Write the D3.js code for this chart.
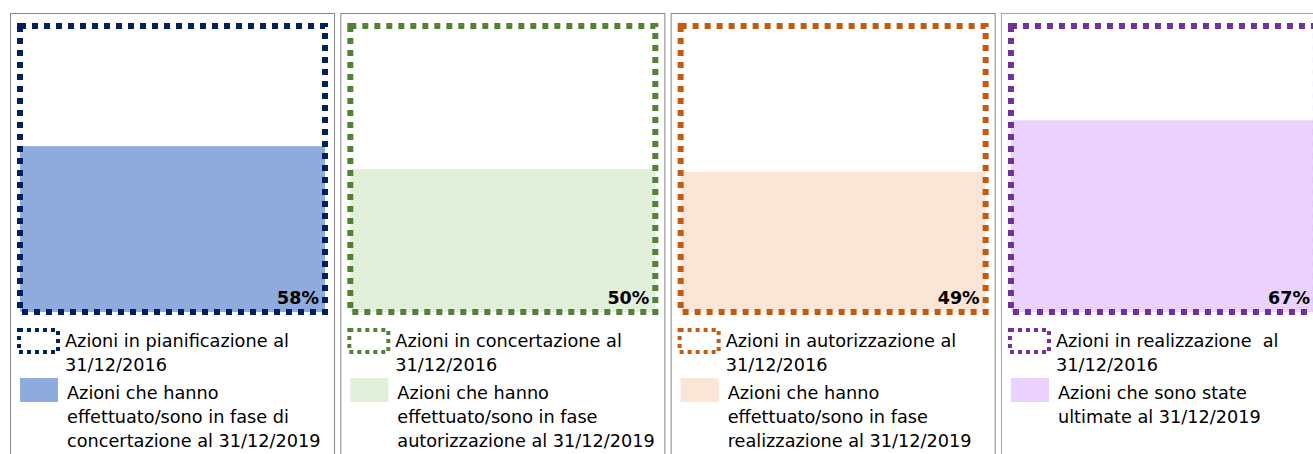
<!DOCTYPE html>
<html>
<head>
<meta charset="utf-8">
<script src="https://cdn.jsdelivr.net/npm/d3@7"></script>
<style>
  html, body { margin: 0; padding: 0; background: #fff; }
  svg { display: block; }
</style>
</head>
<body>
<div id="chart"></div>
<script>
// Phases and the share of actions that moved on by 31/12/2019
const phases = ['pianificazione', 'concertazione', 'autorizzazione', 'realizzazione'];
const percentages = [58, 50, 49, 67];

// Legend texts (one array of lines per item)
const outlineLabels = [
    ['Azioni in pianificazione al', '31/12/2016'],
    ['Azioni in concertazione al', '31/12/2016'],
    ['Azioni in autorizzazione al', '31/12/2016'],
    ['Azioni in realizzazione  al', '31/12/2016']
];
const fillLabels = [
    ['Azioni che hanno', 'effettuato/sono in fase di', 'concertazione al 31/12/2019'],
    ['Azioni che hanno', 'effettuato/sono in fase', 'autorizzazione al 31/12/2019'],
    ['Azioni che hanno', 'effettuato/sono in fase', 'realizzazione al 31/12/2019'],
    ['Azioni che sono state', 'ultimate al 31/12/2019']
];

const width = 1313;
const height = 454;

const outlineColor = d3.scaleOrdinal()
    .domain(phases)
    .range(['#002060', '#548235', '#c55a11', '#7030a0']);
const fillColor = d3.scaleOrdinal()
    .domain(phases)
    .range(['#8faadc', '#e2efda', '#fbe5d6', '#ebd1fd']);

// One panel per phase
const x = d3.scaleBand()
    .domain(phases)
    .range([10, 1325])
    .paddingInner(0.019)
    .paddingOuter(0);

// Percentage scale inside the dotted box
const y = d3.scaleLinear()
    .domain([0, 100])
    .range([312, 26]);

const boxInset = 10;
const boxWidth = 305;
const font = '"DejaVu Sans", Verdana, sans-serif';

const svg = d3.create('svg')
    .attr('width', width)
    .attr('height', height)
    .attr('viewBox', [0, 0, width, height]);

const panel = svg.selectAll('g.panel')
    .data(phases)
    .join('g')
    .attr('class', 'panel')
    .attr('transform', d => `translate(${x(d)},0)`);

// Panel frame
panel.append('rect')
    .attr('x', 0.5)
    .attr('y', 13.5)
    .attr('width', x.bandwidth())
    .attr('height', 480)
    .attr('fill', 'none')
    .attr('stroke', (d, i) => i === 3 ? '#a6a6a6' : '#878787')
    .attr('stroke-width', 1);

// Filled part (share reached)
panel.append('rect')
    .attr('x', boxInset)
    .attr('y', (d, i) => y(percentages[i]))
    .attr('width', boxWidth)
    .attr('height', (d, i) => y(0) - y(percentages[i]))
    .attr('fill', d => fillColor(d));

// Dotted box = 100%
panel.append('rect')
    .attr('x', boxInset)
    .attr('y', y(100))
    .attr('width', boxWidth)
    .attr('height', y(0) - y(100))
    .attr('fill', 'none')
    .attr('stroke', d => outlineColor(d))
    .attr('stroke-width', 6)
    .attr('stroke-dasharray', '6 6');

// Percentage label
panel.append('text')
    .attr('x', boxInset + boxWidth - 6)
    .attr('y', y(0) - 8)
    .attr('text-anchor', 'end')
    .style('font-family', font)
    .style('font-size', '17.5px')
    .style('font-weight', 'bold')
    .style('fill', '#000')
    .text((d, i) => percentages[i] + '%');

// Legend: dotted outline item
panel.append('rect')
    .attr('x', 9)
    .attr('y', 330)
    .attr('width', 39)
    .attr('height', 22)
    .attr('fill', 'none')
    .attr('stroke', d => outlineColor(d))
    .attr('stroke-width', 4)
    .attr('stroke-dasharray', '4 4');

const lineHeight = 24;
const legendSize = '17.7px';

panel.append('text')
    .attr('x', 55)
    .attr('y', 347)
    .style('font-family', font)
    .style('font-size', legendSize)
    .style('white-space', 'pre')
    .style('fill', '#000')
    .selectAll('tspan')
    .data((d, i) => outlineLabels[i])
    .join('tspan')
    .attr('x', 55)
    .attr('dy', (d, j) => j === 0 ? 0 : lineHeight)
    .text(d => d);

// Legend: filled item
panel.append('rect')
    .attr('x', 10)
    .attr('y', 378)
    .attr('width', 38)
    .attr('height', 24)
    .attr('fill', d => fillColor(d));

panel.append('text')
    .attr('x', 57)
    .attr('y', 399)
    .style('font-family', font)
    .style('font-size', legendSize)
    .style('white-space', 'pre')
    .style('fill', '#000')
    .selectAll('tspan')
    .data((d, i) => fillLabels[i])
    .join('tspan')
    .attr('x', 57)
    .attr('dy', (d, j) => j === 0 ? 0 : lineHeight)
    .text(d => d);

document.getElementById('chart').appendChild(svg.node());
</script>
</body>
</html>
